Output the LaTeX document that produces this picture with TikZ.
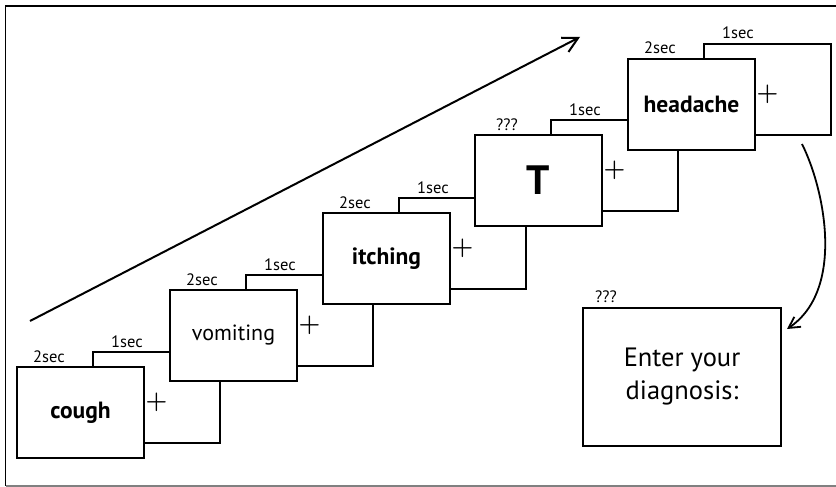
\documentclass[tikz,border=0pt]{standalone}
\usepackage{fontspec}
\setmainfont{PT Sans}
\usetikzlibrary{arrows.meta,calc}
\newcommand\trialstep[6]{% name, left, top, top label, word, word style
  \node[frm] (f#1) at ({#2+76},{#3-15}) {};
  \node[plus] at ([yshift=-5pt]f#1.center) {$+$};
  \node[lab] at ([shift={(34,-5)}]f#1.north west) {1sec};
  \node[frm,#6] (s#1) at (#2,#3) {#5};
  \node[lab] at ([shift={(32,-5)}]s#1.north west) {#4};
}
\begin{document}
\begin{tikzpicture}[x=1pt,y=-1pt,
  frm/.style={draw,fill=white,line width=2pt,rectangle,minimum width=127pt,minimum height=91pt,inner sep=0pt,outer sep=0pt,anchor=north west},
  lab/.style={font=\fontsize{16.5}{18}\selectfont,anchor=base,inner sep=0pt},
  word/.style={font=\fontsize{22}{26}\selectfont},
  bword/.style={font=\bfseries\fontsize{23.5}{26}\selectfont},
  bigword/.style={font=\bfseries\fontsize{41}{44}\selectfont},
  plus/.style={font=\fontsize{27}{30}\selectfont\mathversion{bold},inner sep=0pt},
  arr/.style={line width=2pt,-{Straight Barb[length=15pt,width=16pt,line width=2pt]}},
  carr/.style={line width=1.8pt,-{Straight Barb[length=11pt,width=12pt,line width=1.8pt]}},
]
\useasboundingbox (0,0) rectangle (836,487);
% frame
\draw[line width=1.3pt] (836,6) -- (5.5,6) -- (5.5,486);
\draw[gray,line width=1.2pt] (5.5,486) -- (836,486);
% time arrow
\coordinate (a0) at (30,321);
\coordinate (a1) at (580,37);
\draw[arr] (a0) -- (a1);
% trial steps
\trialstep{0}{17}{367}{2sec}{cough}{bword}
\trialstep{1}{170}{290}{2sec}{vomiting}{word}
\trialstep{2}{323}{213}{2sec}{itching}{bword}
\trialstep{3}{475}{135}{???}{T}{bigword}
\trialstep{4}{628}{59}{2sec}{headache}{bword}
% diagnosis
\node[frm,minimum width=198pt,minimum height=138pt,align=center,font=\fontsize{26.5}{33}\selectfont] (d) at (583,308) {Enter your\\diagnosis:};
\node[lab] at ([shift={(23,-6)}]d.north west) {???};
\coordinate (cs) at (802,144);
\draw[carr] (cs) .. controls (825,190) and (845,290) .. ([shift={(6,21)}]d.north east);
\end{tikzpicture}
\end{document}
